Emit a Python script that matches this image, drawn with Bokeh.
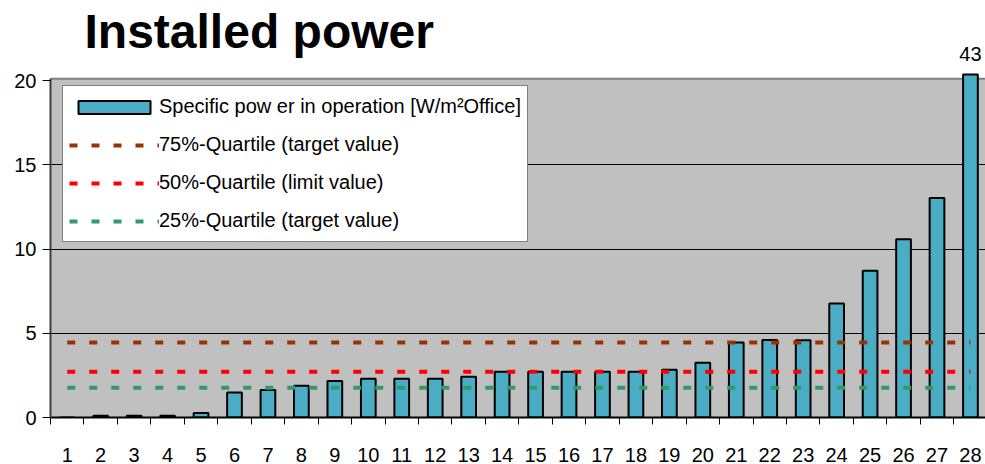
from bokeh.plotting import figure
from bokeh.models import (FixedTicker, Legend, LegendItem, Label, ColumnDataSource,
                          Range1d, BoxAnnotation, Span)
from bokeh.embed import file_html
from bokeh.resources import INLINE

# ---- data ----
buildings = list(range(1, 29))
x_labels = [str(b) for b in buildings]
specific_power = [0.0, 0.1, 0.1, 0.1, 0.26, 1.49, 1.63, 1.89, 2.16, 2.30,
                  2.30, 2.30, 2.42, 2.72, 2.72, 2.72, 2.72, 2.72, 2.84, 3.25,
                  4.46, 4.60, 4.58, 6.77, 8.71, 10.58, 13.04, 43.0]
q75_target = 4.45
q50_limit = 2.72
q25_target = 1.76
y_ticks = [0, 5, 10, 15, 20]
grid_ticks = [5, 10, 15]

# ---- layout constants ----
y_axis_top = 20.12      # top of the grey plot area
y_bar_clip = 20.36      # bars taller than the axis are cut here
y_end = 24.76           # frame reaches the top of the canvas (room for title)
FONT = "Liberation Sans"

display_top = [min(v, y_bar_clip) for v in specific_power]

src = ColumnDataSource(dict(
    x=buildings,
    top=display_top,
    value=specific_power,
    q75=[q75_target] * len(buildings),
    q50=[q50_limit] * len(buildings),
    q25=[q25_target] * len(buildings),
))

p = figure(width=985, height=464, output_backend="svg", toolbar_location=None,
           x_range=Range1d(0.5, 28.45), y_range=Range1d(0, y_end),
           min_border_left=50, min_border_right=0, min_border_top=0, min_border_bottom=47,
           background_fill_color="white", border_fill_color="white",
           outline_line_color=None)

# grey plot area + its top border
p.add_layout(BoxAnnotation(bottom=0, top=y_axis_top, fill_color="#C0C0C0", fill_alpha=1.0,
                           line_color=None, level="image"))
p.add_layout(Span(location=y_axis_top, dimension="width", line_color="#808080",
                  line_width=2, level="underlay"))

bars = p.vbar(x="x", top="top", width=0.44, source=src,
              fill_color="#4BACC6", line_color="black", line_width=2)
l75 = p.line(x="x", y="q75", source=src, line_color="#993300", line_width=4, line_dash="8 14")
l50 = p.line(x="x", y="q50", source=src, line_color="#FF0000", line_width=4, line_dash="8 14")
l25 = p.line(x="x", y="q25", source=src, line_color="#339966", line_width=4, line_dash="8 14")

# axes
p.xaxis.ticker = FixedTicker(ticks=buildings,
                             minor_ticks=[b - 0.5 for b in buildings] + [buildings[-1] + 0.5])
p.xaxis.major_label_overrides = {b: lab for b, lab in zip(buildings, x_labels)}
p.xaxis.major_tick_line_color = None
p.xaxis.major_tick_out = 0
p.xaxis.major_tick_in = 0
p.xaxis.minor_tick_line_color = "black"
p.xaxis.minor_tick_out = 7
p.xaxis.minor_tick_in = 0
p.xaxis.axis_line_color = "black"
p.xaxis.axis_line_width = 2
p.xaxis.major_label_standoff = 23
p.xaxis.major_label_text_font = FONT
p.xaxis.major_label_text_font_size = "20px"
p.xaxis.major_label_text_color = "black"

p.yaxis.ticker = FixedTicker(ticks=y_ticks)
p.yaxis.bounds = (0, y_axis_top)
p.yaxis.minor_tick_line_color = None
p.yaxis.major_tick_out = 8
p.yaxis.major_tick_in = 0
p.yaxis.major_tick_line_color = "black"
p.yaxis.axis_line_color = "#404040"
p.yaxis.axis_line_width = 2
p.yaxis.major_label_standoff = 6
p.yaxis.major_label_text_font = FONT
p.yaxis.major_label_text_font_size = "20px"
p.yaxis.major_label_text_color = "black"

p.xgrid.grid_line_color = None
p.ygrid.ticker = FixedTicker(ticks=grid_ticks)
p.ygrid.grid_line_color = "black"
p.ygrid.grid_line_width = 1

# title
p.add_layout(Label(x=0.5, y=y_end, x_offset=34, y_offset=-4, text="Installed power",
                   text_align="left", text_baseline="top",
                   text_font=FONT, text_font_style="bold", text_font_size="48px",
                   text_color="black"))

# value label for the cut bar
p.add_layout(Label(x=buildings[-1], y=y_axis_top, text=f"{specific_power[-1]:g}",
                   text_align="center", text_baseline="bottom", y_offset=18,
                   text_font=FONT, text_font_size="20px", text_color="black"))

legend = Legend(items=[
    LegendItem(label="Specific pow er in operation [W/m²Office]", renderers=[bars]),
    LegendItem(label="75%-Quartile (target value)", renderers=[l75]),
    LegendItem(label="50%-Quartile (limit value)", renderers=[l50]),
    LegendItem(label="25%-Quartile (target value)", renderers=[l25]),
], location=(12, 175), padding=6, spacing=9, glyph_width=90, glyph_height=16,
    label_standoff=0, label_height=29, label_width=359,
    label_text_font=FONT, label_text_font_size="20px", label_text_color="black",
    border_line_color="black", border_line_width=1, background_fill_color="white",
    background_fill_alpha=1.0, margin=0)
p.add_layout(legend)

open("out.html", "w").write(file_html(p, INLINE))
